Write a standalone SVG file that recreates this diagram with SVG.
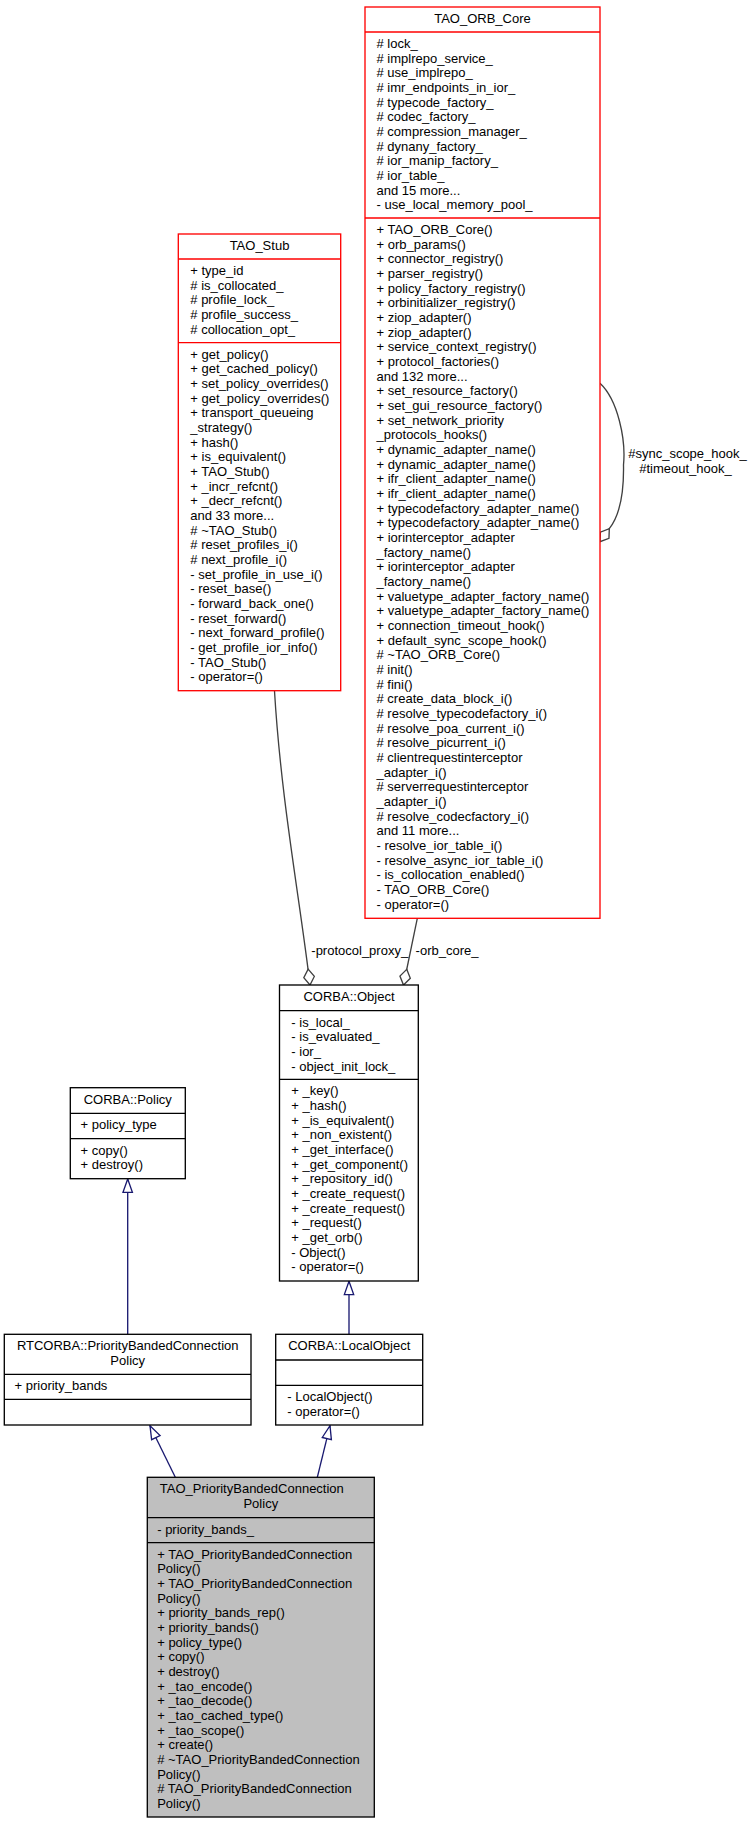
<svg xmlns="http://www.w3.org/2000/svg" width="753" height="1824" viewBox="0 0 753 1824">
<style>
text{font-family:"Liberation Sans",Arial,Helvetica,sans-serif;font-size:13px;fill:#000}
.c{text-anchor:middle}
.box{fill:#fff;stroke:#000;stroke-width:1.33}
.red{stroke:#ff0000}
.grey{fill:#bfbfbf}
.sep{stroke:#000;stroke-width:1.33}
.sepr{stroke:#ff0000;stroke-width:1.33}
.inh{fill:none;stroke:#191970;stroke-width:1.33;marker-end:url(#tri)}
.use{fill:none;stroke:#404040;stroke-width:1.33;marker-end:url(#dia)}
</style>
<defs>
<marker id="tri" viewBox="0 0 14 10" refX="13.3" refY="5" markerWidth="14" markerHeight="10" markerUnits="userSpaceOnUse" orient="auto" overflow="visible">
<path d="M0,0.3 L13.3,5 L0,9.7 Z" fill="#fff" stroke="#191970" stroke-width="1.33"/>
</marker>
<marker id="dia" viewBox="0 0 16 10.6" refX="16" refY="5.3" markerWidth="16" markerHeight="10.6" markerUnits="userSpaceOnUse" orient="auto" overflow="visible">
<path d="M0,5.3 L8,0 L16,5.3 L8,10.6 Z" fill="#fff" stroke="#404040" stroke-width="1.33"/>
</marker>
</defs>
<rect width="753" height="1824" fill="#fff"/>

<g id="connectors">
<path class="inh" d="M127.7,1334.3 L127.7,1179"/>
<path class="inh" d="M349,1334.3 L349,1281.3"/>
<path class="inh" d="M175.3,1477.3 L150,1425.7"/>
<path class="inh" d="M317.3,1477.3 L330,1425.7"/>
<path class="use" d="M274.5,691 C281,800 300,900 310,985"/>
<path class="use" d="M417.3,918.3 L403.5,985"/>
<path class="use" d="M600,383.3 C618,400 626,440 623.5,465 C624,492 620,515 609.3,528.7 L600,541.7"/>
<text x="311.3" y="954.5">-protocol_proxy_</text>
<text x="415.6" y="954.5">-orb_core_</text>
<text x="628.2" y="458.3">#sync_scope_hook_</text>
<text x="639.2" y="473">#timeout_hook_</text>
</g>

<g id="TAO_ORB_Core">
<rect class="box red" x="365" y="7" width="235" height="911.3"/>
<line class="sepr" x1="365" y1="32" x2="600" y2="32"/>
<line class="sepr" x1="365" y1="218" x2="600" y2="218"/>
<text class="c" x="482.5" y="23">TAO_ORB_Core</text>
<text x="376.5" y="48"><tspan x="376.5" y="48"># lock_</tspan><tspan x="376.5" dy="14.67"># implrepo_service_</tspan><tspan x="376.5" dy="14.67"># use_implrepo_</tspan><tspan x="376.5" dy="14.67"># imr_endpoints_in_ior_</tspan><tspan x="376.5" dy="14.67"># typecode_factory_</tspan><tspan x="376.5" dy="14.67"># codec_factory_</tspan><tspan x="376.5" dy="14.67"># compression_manager_</tspan><tspan x="376.5" dy="14.67"># dynany_factory_</tspan><tspan x="376.5" dy="14.67"># ior_manip_factory_</tspan><tspan x="376.5" dy="14.67"># ior_table_</tspan><tspan x="376.5" dy="14.67">and 15 more...</tspan><tspan x="376.5" dy="14.67">- use_local_memory_pool_</tspan></text>
<text x="376.5" y="234"><tspan x="376.5" y="234">+ TAO_ORB_Core()</tspan><tspan x="376.5" dy="14.67">+ orb_params()</tspan><tspan x="376.5" dy="14.67">+ connector_registry()</tspan><tspan x="376.5" dy="14.67">+ parser_registry()</tspan><tspan x="376.5" dy="14.67">+ policy_factory_registry()</tspan><tspan x="376.5" dy="14.67">+ orbinitializer_registry()</tspan><tspan x="376.5" dy="14.67">+ ziop_adapter()</tspan><tspan x="376.5" dy="14.67">+ ziop_adapter()</tspan><tspan x="376.5" dy="14.67">+ service_context_registry()</tspan><tspan x="376.5" dy="14.67">+ protocol_factories()</tspan><tspan x="376.5" dy="14.67">and 132 more...</tspan><tspan x="376.5" dy="14.67">+ set_resource_factory()</tspan><tspan x="376.5" dy="14.67">+ set_gui_resource_factory()</tspan><tspan x="376.5" dy="14.67">+ set_network_priority</tspan><tspan x="376.5" dy="14.67">_protocols_hooks()</tspan><tspan x="376.5" dy="14.67">+ dynamic_adapter_name()</tspan><tspan x="376.5" dy="14.67">+ dynamic_adapter_name()</tspan><tspan x="376.5" dy="14.67">+ ifr_client_adapter_name()</tspan><tspan x="376.5" dy="14.67">+ ifr_client_adapter_name()</tspan><tspan x="376.5" dy="14.67">+ typecodefactory_adapter_name()</tspan><tspan x="376.5" dy="14.67">+ typecodefactory_adapter_name()</tspan><tspan x="376.5" dy="14.67">+ iorinterceptor_adapter</tspan><tspan x="376.5" dy="14.67">_factory_name()</tspan><tspan x="376.5" dy="14.67">+ iorinterceptor_adapter</tspan><tspan x="376.5" dy="14.67">_factory_name()</tspan><tspan x="376.5" dy="14.67">+ valuetype_adapter_factory_name()</tspan><tspan x="376.5" dy="14.67">+ valuetype_adapter_factory_name()</tspan><tspan x="376.5" dy="14.67">+ connection_timeout_hook()</tspan><tspan x="376.5" dy="14.67">+ default_sync_scope_hook()</tspan><tspan x="376.5" dy="14.67"># ~TAO_ORB_Core()</tspan><tspan x="376.5" dy="14.67"># init()</tspan><tspan x="376.5" dy="14.67"># fini()</tspan><tspan x="376.5" dy="14.67"># create_data_block_i()</tspan><tspan x="376.5" dy="14.67"># resolve_typecodefactory_i()</tspan><tspan x="376.5" dy="14.67"># resolve_poa_current_i()</tspan><tspan x="376.5" dy="14.67"># resolve_picurrent_i()</tspan><tspan x="376.5" dy="14.67"># clientrequestinterceptor</tspan><tspan x="376.5" dy="14.67">_adapter_i()</tspan><tspan x="376.5" dy="14.67"># serverrequestinterceptor</tspan><tspan x="376.5" dy="14.67">_adapter_i()</tspan><tspan x="376.5" dy="14.67"># resolve_codecfactory_i()</tspan><tspan x="376.5" dy="14.67">and 11 more...</tspan><tspan x="376.5" dy="14.67">- resolve_ior_table_i()</tspan><tspan x="376.5" dy="14.67">- resolve_async_ior_table_i()</tspan><tspan x="376.5" dy="14.67">- is_collocation_enabled()</tspan><tspan x="376.5" dy="14.67">- TAO_ORB_Core()</tspan><tspan x="376.5" dy="14.67">- operator=()</tspan></text>
</g>

<g id="TAO_Stub">
<rect class="box red" x="178.3" y="234" width="162.4" height="456.7"/>
<line class="sepr" x1="178.3" y1="259" x2="340.7" y2="259"/>
<line class="sepr" x1="178.3" y1="342.7" x2="340.7" y2="342.7"/>
<text class="c" x="259.5" y="250">TAO_Stub</text>
<text x="190.3" y="275"><tspan x="190.3" y="275">+ type_id</tspan><tspan x="190.3" dy="14.67"># is_collocated_</tspan><tspan x="190.3" dy="14.67"># profile_lock_</tspan><tspan x="190.3" dy="14.67"># profile_success_</tspan><tspan x="190.3" dy="14.67"># collocation_opt_</tspan></text>
<text x="190.3" y="358.7"><tspan x="190.3" y="358.7">+ get_policy()</tspan><tspan x="190.3" dy="14.67">+ get_cached_policy()</tspan><tspan x="190.3" dy="14.67">+ set_policy_overrides()</tspan><tspan x="190.3" dy="14.67">+ get_policy_overrides()</tspan><tspan x="190.3" dy="14.67">+ transport_queueing</tspan><tspan x="190.3" dy="14.67">_strategy()</tspan><tspan x="190.3" dy="14.67">+ hash()</tspan><tspan x="190.3" dy="14.67">+ is_equivalent()</tspan><tspan x="190.3" dy="14.67">+ TAO_Stub()</tspan><tspan x="190.3" dy="14.67">+ _incr_refcnt()</tspan><tspan x="190.3" dy="14.67">+ _decr_refcnt()</tspan><tspan x="190.3" dy="14.67">and 33 more...</tspan><tspan x="190.3" dy="14.67"># ~TAO_Stub()</tspan><tspan x="190.3" dy="14.67"># reset_profiles_i()</tspan><tspan x="190.3" dy="14.67"># next_profile_i()</tspan><tspan x="190.3" dy="14.67">- set_profile_in_use_i()</tspan><tspan x="190.3" dy="14.67">- reset_base()</tspan><tspan x="190.3" dy="14.67">- forward_back_one()</tspan><tspan x="190.3" dy="14.67">- reset_forward()</tspan><tspan x="190.3" dy="14.67">- next_forward_profile()</tspan><tspan x="190.3" dy="14.67">- get_profile_ior_info()</tspan><tspan x="190.3" dy="14.67">- TAO_Stub()</tspan><tspan x="190.3" dy="14.67">- operator=()</tspan></text>
</g>

<g id="CORBA_Object">
<rect class="box" x="279.5" y="985" width="138.8" height="296"/>
<line class="sep" x1="279.5" y1="1010.7" x2="418.3" y2="1010.7"/>
<line class="sep" x1="279.5" y1="1079.3" x2="418.3" y2="1079.3"/>
<text class="c" x="349" y="1001">CORBA::Object</text>
<text x="291.3" y="1026.7"><tspan x="291.3" y="1026.7">- is_local_</tspan><tspan x="291.3" dy="14.67">- is_evaluated_</tspan><tspan x="291.3" dy="14.67">- ior_</tspan><tspan x="291.3" dy="14.67">- object_init_lock_</tspan></text>
<text x="291.3" y="1095.3"><tspan x="291.3" y="1095.3">+ _key()</tspan><tspan x="291.3" dy="14.67">+ _hash()</tspan><tspan x="291.3" dy="14.67">+ _is_equivalent()</tspan><tspan x="291.3" dy="14.67">+ _non_existent()</tspan><tspan x="291.3" dy="14.67">+ _get_interface()</tspan><tspan x="291.3" dy="14.67">+ _get_component()</tspan><tspan x="291.3" dy="14.67">+ _repository_id()</tspan><tspan x="291.3" dy="14.67">+ _create_request()</tspan><tspan x="291.3" dy="14.67">+ _create_request()</tspan><tspan x="291.3" dy="14.67">+ _request()</tspan><tspan x="291.3" dy="14.67">+ _get_orb()</tspan><tspan x="291.3" dy="14.67">- Object()</tspan><tspan x="291.3" dy="14.67">- operator=()</tspan></text>
</g>

<g id="CORBA_Policy">
<rect class="box" x="70.3" y="1087.7" width="115" height="91"/>
<line class="sep" x1="70.3" y1="1113.3" x2="185.3" y2="1113.3"/>
<line class="sep" x1="70.3" y1="1138.7" x2="185.3" y2="1138.7"/>
<text class="c" x="127.8" y="1103.7">CORBA::Policy</text>
<text x="80.5" y="1129.3">+ policy_type</text>
<text x="80.5" y="1154.7"><tspan x="80.5" y="1154.7">+ copy()</tspan><tspan x="80.5" dy="14.67">+ destroy()</tspan></text>
</g>

<g id="RTCORBA_PriorityBandedConnectionPolicy">
<rect class="box" x="4.3" y="1334.3" width="246.7" height="90.7"/>
<line class="sep" x1="4.3" y1="1374.3" x2="251" y2="1374.3"/>
<line class="sep" x1="4.3" y1="1399.3" x2="251" y2="1399.3"/>
<text class="c" x="127.7" y="1350.3"><tspan x="127.7" y="1350.3">RTCORBA::PriorityBandedConnection</tspan><tspan x="127.7" dy="14.67">Policy</tspan></text>
<text x="14.5" y="1390.3">+ priority_bands</text>
</g>

<g id="CORBA_LocalObject">
<rect class="box" x="275.7" y="1334.3" width="147" height="90.7"/>
<line class="sep" x1="275.7" y1="1360" x2="422.7" y2="1360"/>
<line class="sep" x1="275.7" y1="1385.3" x2="422.7" y2="1385.3"/>
<text class="c" x="349.2" y="1350.3">CORBA::LocalObject</text>
<text x="287.3" y="1401.3"><tspan x="287.3" y="1401.3">- LocalObject()</tspan><tspan x="287.3" dy="14.67">- operator=()</tspan></text>
</g>

<g id="TAO_PriorityBandedConnectionPolicy">
<rect class="box grey" x="147.3" y="1477.3" width="227" height="339.7"/>
<line class="sep" x1="147.3" y1="1517.7" x2="374.3" y2="1517.7"/>
<line class="sep" x1="147.3" y1="1542.7" x2="374.3" y2="1542.7"/>
<text x="159.8" y="1493.3">TAO_PriorityBandedConnection</text>
<text class="c" x="260.8" y="1508">Policy</text>
<text x="157.2" y="1533.7">- priority_bands_</text>
<text x="157.2" y="1558.7"><tspan x="157.2" y="1558.7">+ TAO_PriorityBandedConnection</tspan><tspan x="157.2" dy="14.67">Policy()</tspan><tspan x="157.2" dy="14.67">+ TAO_PriorityBandedConnection</tspan><tspan x="157.2" dy="14.67">Policy()</tspan><tspan x="157.2" dy="14.67">+ priority_bands_rep()</tspan><tspan x="157.2" dy="14.67">+ priority_bands()</tspan><tspan x="157.2" dy="14.67">+ policy_type()</tspan><tspan x="157.2" dy="14.67">+ copy()</tspan><tspan x="157.2" dy="14.67">+ destroy()</tspan><tspan x="157.2" dy="14.67">+ _tao_encode()</tspan><tspan x="157.2" dy="14.67">+ _tao_decode()</tspan><tspan x="157.2" dy="14.67">+ _tao_cached_type()</tspan><tspan x="157.2" dy="14.67">+ _tao_scope()</tspan><tspan x="157.2" dy="14.67">+ create()</tspan><tspan x="157.2" dy="14.67"># ~TAO_PriorityBandedConnection</tspan><tspan x="157.2" dy="14.67">Policy()</tspan><tspan x="157.2" dy="14.67"># TAO_PriorityBandedConnection</tspan><tspan x="157.2" dy="14.67">Policy()</tspan></text>
</g>
</svg>
